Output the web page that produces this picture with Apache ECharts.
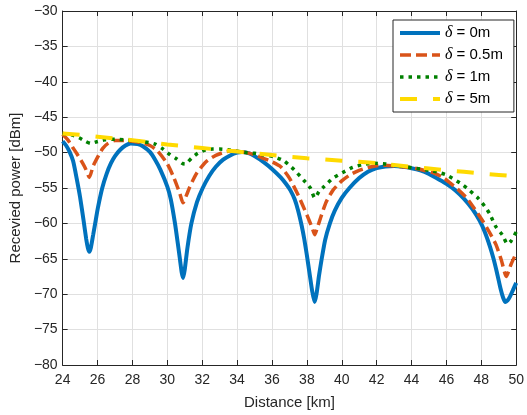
<!DOCTYPE html>
<html><head><meta charset="utf-8">
<script src="https://cdn.jsdelivr.net/npm/echarts@6/dist/echarts.min.js"></script>
<style>html,body{margin:0;padding:0;background:#fff}#c{width:527px;height:415px}</style>
</head><body><div id="c"></div>
<script>
// ---- data ----
const seriesNames = ['δ = 0m', 'δ = 0.5m', 'δ = 1m', 'δ = 5m'];

const distBlue = [24.0,24.2,24.4,24.6,24.8,25.0,25.2,25.35,25.45,25.53,25.62,25.75,25.9,26.02,26.27,26.52,26.77,27.0,27.3,27.6,27.9,28.3,28.6,29.0,29.3,29.6,30.0,30.2,30.44,30.6,30.72,30.83,30.91,31.0,31.15,31.38,31.7,32.03,32.4,32.78,33.2,33.6,34.0,34.3,34.7,35.0,35.5,36.0,36.5,36.8,37.05,37.3,37.5,37.7,37.85,38.0,38.15,38.3,38.44,38.55,38.7,38.85,39.05,39.32,39.6,40.0,40.44,41.0,41.5,42.0,42.5,43.0,43.5,44.0,44.5,45.0,45.5,46.0,46.5,47.0,47.5,47.9,48.2,48.5,48.7,48.9,49.1,49.25,49.38,49.5,49.65,49.8,50.0];
const powBlue = [-48.4,-49.0,-49.9,-51.2,-53.6,-56.3,-59.6,-62.2,-63.5,-64.0,-63.4,-61.6,-59.5,-57.8,-55.0,-53.0,-51.5,-50.5,-49.6,-49.0,-48.7,-48.8,-49.1,-49.9,-51.0,-52.4,-54.8,-56.6,-60.0,-62.8,-65.0,-67.0,-67.7,-66.5,-63.5,-60.0,-57.0,-55.0,-53.3,-52.0,-51.0,-50.4,-50.0,-49.9,-50.1,-50.5,-51.3,-52.3,-53.5,-54.4,-55.3,-56.6,-58.2,-60.3,-62.2,-64.5,-67.0,-69.5,-71.1,-70.0,-67.3,-65.0,-62.3,-60.0,-58.2,-56.4,-55.0,-53.6,-52.7,-52.2,-51.95,-51.9,-52.0,-52.2,-52.5,-53.0,-53.7,-54.4,-55.3,-56.5,-58.0,-59.6,-61.2,-63.3,-65.0,-67.0,-69.2,-70.5,-71.1,-70.9,-70.3,-69.5,-68.4];

const distOrange = [24.0,24.3,24.56,24.8,25.03,25.3,25.53,25.75,26.06,26.3,26.6,27.0,27.5,28.0,28.5,29.0,29.42,29.98,30.35,30.72,30.9,31.1,31.28,31.66,32.22,32.78,33.52,34.0,34.5,35.0,35.5,36.0,36.5,37.0,37.5,38.0,38.3,38.45,38.6,38.8,39.1,39.5,40.0,40.5,41.0,41.5,42.0,42.5,43.0,43.5,44.17,44.7,45.29,45.8,46.22,46.7,47.16,47.6,48.09,48.5,48.84,49.15,49.43,49.7,50.0];
const powOrange = [-47.4,-48.2,-49.2,-50.1,-51.0,-52.2,-53.5,-51.9,-50.4,-49.4,-48.7,-48.3,-48.3,-48.4,-48.6,-49.0,-49.7,-51.5,-53.4,-55.8,-57.1,-56.0,-54.9,-53.0,-51.3,-50.4,-49.8,-49.8,-50.0,-50.3,-50.8,-51.3,-52.0,-53.6,-56.0,-58.8,-60.6,-61.6,-60.6,-59.1,-57.0,-55.3,-54.0,-53.1,-52.5,-52.1,-51.85,-51.8,-51.9,-52.0,-52.2,-52.5,-52.9,-53.5,-54.3,-55.3,-56.4,-57.9,-59.7,-61.4,-63.0,-65.2,-67.5,-65.8,-64.2];

const distGreen = [24.0,24.5,24.94,25.3,25.6,25.9,26.4,27.0,27.5,28.0,28.5,29.0,29.3,29.7,30.16,30.54,30.85,31.0,31.15,31.38,31.75,32.22,32.6,33.0,33.5,34.0,34.5,35.0,35.5,36.14,36.7,37.26,37.82,38.2,38.45,38.7,38.94,39.5,40.06,40.62,41.18,41.84,42.5,43.0,43.6,44.5,45.0,45.57,46.04,46.78,47.16,47.8,48.2,48.47,48.84,49.2,49.5,49.7,50.0];
const powGreen = [-47.3,-47.5,-47.9,-48.4,-48.7,-48.5,-48.2,-48.1,-48.2,-48.3,-48.45,-48.6,-48.8,-49.4,-50.3,-50.9,-51.5,-51.6,-51.4,-50.8,-50.1,-49.6,-49.5,-49.5,-49.6,-49.8,-50.0,-50.1,-50.3,-50.6,-51.2,-52.4,-53.9,-55.0,-56.4,-55.5,-54.9,-53.6,-52.8,-52.1,-51.7,-51.5,-51.6,-51.8,-52.0,-52.3,-52.5,-52.8,-53.2,-54.3,-55.0,-56.4,-57.6,-58.6,-60.5,-61.6,-62.9,-62.5,-61.2];

const distYellow = [24,25,26,27,28,29,30,31,32,33,34,35,36,37,38,39,40,41,42,43,44,45,46,47,48,49,50];
const powYellow = [-47.3,-47.5,-47.75,-48.0,-48.25,-48.55,-48.85,-49.1,-49.35,-49.6,-49.85,-50.1,-50.35,-50.6,-50.8,-50.95,-51.15,-51.3,-51.5,-51.75,-52.0,-52.25,-52.5,-52.7,-52.95,-53.15,-53.35];

// ---- chart ----
const pair = (xs, ys) => xs.map((x, i) => [x, ys[i]]);
const FONT = '"Liberation Sans", Arial, Helvetica, sans-serif';
const AX = '#262626';
const minus = v => String(v).replace('-', '\u2212');

function axisBase(extra) {
  return Object.assign({
    type: 'value',
    axisLine: { show: true, onZero: false, lineStyle: { color: AX, width: 1 } },
    axisTick: { show: true, inside: true, length: 5, lineStyle: { color: AX, width: 1 } },
    splitLine: { show: false },
  }, extra);
}

const chart = echarts.init(document.getElementById('c'), null, { renderer: 'canvas' });
chart.setOption({
  animation: false,
  backgroundColor: '#fff',
  grid: { left: 53, right: 10, top: 11, bottom: 50, containLabel: false },
  xAxis: [
    axisBase({
      min: 24, max: 50, interval: 2, position: 'bottom',
      axisLabel: { color: AX, fontSize: 14, margin: 8, fontFamily: FONT },
      splitLine: { show: true, lineStyle: { color: '#e0e0e0', width: 1 } },
      name: 'Distance [km]', nameLocation: 'middle', nameGap: 30,
      nameTextStyle: { color: AX, fontSize: 15, fontFamily: FONT }
    }),
    axisBase({ min: 24, max: 50, interval: 2, position: 'top', axisLabel: { show: false } })
  ],
  yAxis: [
    axisBase({
      min: -80, max: -30, interval: 5, position: 'left',
      axisLabel: { color: AX, fontSize: 14, margin: 5, fontFamily: FONT, formatter: minus },
      splitLine: { show: true, lineStyle: { color: '#e0e0e0', width: 1 } },
      name: 'Recevied power [dBm]', nameLocation: 'middle', nameGap: 27,
      nameTextStyle: { color: AX, fontSize: 15, fontFamily: FONT }
    }),
    axisBase({ min: -80, max: -30, interval: 5, position: 'right', axisLabel: { show: false } })
  ],
  legend: {
    data: seriesNames,
    orient: 'vertical',
    left: 393, top: 20,
    itemWidth: 40, itemHeight: 14, itemGap: 6,
    padding: [5, 11, 5, 5],
    borderColor: AX, borderWidth: 1, borderRadius: 0,
    backgroundColor: '#fff',
    selectedMode: false,
    itemStyle: { color: 'rgba(0,0,0,0)', opacity: 0, borderWidth: 0 },
    lineStyle: { width: 'inherit', type: 'inherit' },
    formatter: n => '{d|δ}' + n.slice(1),
    textStyle: {
      color: '#000', fontSize: 15, fontFamily: FONT,
      rich: { d: { fontFamily: '"Liberation Serif", "DejaVu Serif", serif', fontStyle: 'italic', fontSize: 16, color: '#000' } }
    }
  },
  series: [
    { name: seriesNames[0], type: 'line', data: pair(distBlue, powBlue), showSymbol: false, symbol: 'none', smooth: 0.2,
      lineStyle: { color: '#0072BD', width: 4 }, itemStyle: { color: '#0072BD' } },
    { name: seriesNames[1], type: 'line', data: pair(distOrange, powOrange), showSymbol: false, symbol: 'none', smooth: 0.2,
      lineStyle: { color: '#D95319', width: 3.5, type: [11, 5] }, itemStyle: { color: '#D95319' } },
    { name: seriesNames[2], type: 'line', data: pair(distGreen, powGreen), showSymbol: false, symbol: 'none', smooth: 0.2,
      lineStyle: { color: '#008000', width: 3.5, type: [3.5, 5] }, itemStyle: { color: '#008000' } },
    { name: seriesNames[3], type: 'line', data: pair(distYellow, powYellow), showSymbol: false, symbol: 'none',
      lineStyle: { color: '#FFDA00', width: 4, type: [17, 16] }, itemStyle: { color: '#FFDA00' } }
  ]
});
</script>
</body></html>
